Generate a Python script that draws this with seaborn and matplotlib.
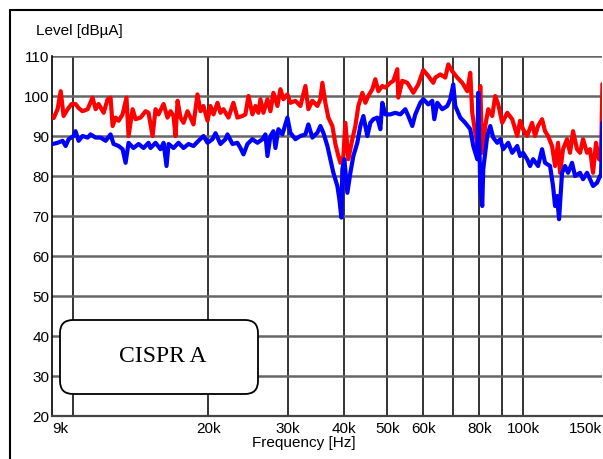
import matplotlib
matplotlib.use("Agg")
import matplotlib.pyplot as plt
import seaborn as sns
import pandas as pd
from matplotlib.patches import FancyBboxPatch
from matplotlib.lines import Line2D
from matplotlib.transforms import IdentityTransform
from matplotlib.ticker import NullLocator

# ---------------- data ----------------
red_freq_khz = [9.03, 9.08, 9.26, 9.41, 9.55, 9.75, 9.95, 10.15, 10.31, 10.52, 10.80, 11.07, 11.25, 11.42,
                11.72, 11.96, 12.14, 12.27, 12.46, 12.65, 12.91, 13.17, 13.31, 13.59, 13.80, 14.15, 14.52,
                14.74, 15.05, 15.28, 15.51, 15.92, 16.24, 16.50, 16.75, 16.92, 17.10, 17.36, 17.63, 17.99,
                18.27, 18.55, 18.93, 19.23, 19.52, 19.93, 20.23, 20.55, 20.97, 21.29, 21.62, 22.18, 22.75,
                23.22, 23.82, 24.19, 24.57, 25.07, 25.46, 25.85, 26.12, 26.52, 27.07, 27.49, 27.91, 28.49,
                28.93, 29.37, 29.98, 30.44, 31.23, 32.04, 32.87, 33.37, 34.06, 34.94, 35.48, 35.85, 36.40,
                36.96, 37.73, 38.31, 38.90, 39.30, 39.91, 40.32, 40.94, 41.78, 42.43, 43.08, 43.98, 44.65,
                45.34, 46.28, 46.99, 47.72, 48.70, 49.45, 50.73, 51.52, 52.58, 52.85, 53.94, 55.33, 56.19,
                57.06, 58.53, 60.05, 61.60, 63.19, 63.84, 65.49, 67.19, 68.23, 69.63, 71.43, 73.28, 75.18,
                76.34, 77.12, 78.31, 79.52, 80.34, 81.16, 82.42, 83.69, 85.42, 86.73, 88.07, 89.89, 92.22,
                94.60, 97.05, 98.48, 100.0, 102.07, 104.70, 106.31, 107.96, 110.19, 111.89, 113.62, 115.96,
                117.76, 119.57, 120.80, 122.66, 125.20, 127.13, 129.10, 131.76, 133.80, 135.87, 138.67,
                140.81, 142.99, 145.19, 147.44, 148.95, 150.0]
red_level = [95, 94.5, 96.7, 101.2, 95, 96.7, 98, 98, 97, 96.2, 96.7, 99.6, 96.7, 98,
             95.8, 99.2, 99.6, 92.5, 94.6, 93.8, 95.4, 99.6, 90, 96.7, 94.2, 94.6, 96.2,
             95.8, 90, 96.7, 95.4, 98, 94.6, 96.2, 95, 90, 98.8, 94.6, 93.3, 96.2,
             94.6, 92.9, 100.4, 96.2, 97.5, 93.8, 97.5, 95.4, 98.3, 95.8, 96.7, 94.6, 98.3,
             94.6, 95, 95.4, 100, 95.4, 97.5, 95.8, 99.2, 95.8, 99.2, 96.2, 100.8, 97.5,
             101.7, 99.2, 100.4, 98.3, 98.8, 97.5, 102.5, 96.7, 98.8, 97.5, 99.2, 103.3, 98.3,
             94.6, 92.5, 88, 85, 83.3, 85, 93.3, 84.2, 89.2, 92.5, 97.5, 100.8, 98.3,
             100, 101.7, 104.2, 101.2, 102.5, 102.1, 103.3, 103.8, 106.7, 99.6, 103.8, 103.3, 102.1,
             100.8, 102.9, 106.5, 105, 103.3, 104.6, 105.4, 104.6, 107.9, 106.2, 104.6, 103.3, 101.2,
             105.8, 95.8, 90.8, 86.7, 102.5, 85.8, 92.5, 96.7, 95, 100, 97.9, 93.3, 95.8,
             94.2, 90, 93.8, 91.7, 90, 93.3, 90, 92.5, 94.2, 91.2, 90, 87.5,
             82.5, 88.3, 80.8, 86.7, 89.2, 85.8, 91.2, 86.7, 85.8, 89.2, 85.8,
             86.7, 80.8, 88.3, 84.2, 84, 103]

blue_freq_khz = [9.03, 9.26, 9.50, 9.65, 9.80, 10.05, 10.15, 10.31, 10.52, 10.80, 10.96, 11.25, 11.54,
                 11.84, 12.14, 12.33, 12.65, 12.91, 13.11, 13.31, 13.65, 14.01, 14.37, 14.74, 14.89, 15.28,
                 15.67, 15.92, 16.16, 16.33, 16.75, 17.18, 17.63, 18.08, 18.55, 19.03, 19.52, 19.93, 20.44,
                 20.76, 21.29, 21.84, 22.07, 22.64, 23.22, 23.58, 23.95, 24.44, 25.07, 25.72, 26.39, 26.79,
                 27.07, 27.49, 27.91, 28.20, 28.63, 29.22, 29.98, 30.44, 31.23, 32.04, 32.87, 33.37, 34.06,
                 34.94, 35.48, 36.03, 36.78, 37.34, 37.92, 38.70, 39.10, 39.50, 39.70, 40.11, 40.73, 41.36,
                 42.00, 42.86, 43.53, 44.20, 45.11, 45.81, 46.51, 47.47, 48.21, 48.70, 49.45, 50.73, 52.04,
                 53.39, 54.77, 55.62, 56.77, 57.64, 59.13, 60.05, 61.60, 62.87, 63.52, 64.50, 66.16, 67.88,
                 68.93, 69.99, 70.71, 72.54, 74.41, 76.34, 77.52, 79.12, 79.52, 80.34, 81.16, 81.58, 83.26,
                 84.55, 85.85, 87.63, 88.98, 90.35, 92.69, 94.60, 97.05, 98.48, 100.0, 102.07, 103.64,
                 105.24, 107.96, 110.19, 111.89, 114.79, 116.55, 117.76, 118.97, 120.18, 122.04, 123.92,
                 125.84, 128.44, 130.42, 133.80, 135.87, 138.67, 140.81, 142.99, 145.93, 148.19, 148.95, 150.0]
blue_level = [88, 88.3, 88.8, 87.5, 89.2, 90, 91.2, 88.8, 90, 89.6, 90.4, 89.6, 89.6,
              88.8, 90.4, 88, 87.5, 86.7, 83.3, 88.3, 87, 88, 87, 88.3, 87, 88.3,
              86.7, 88.3, 82.5, 88, 87, 88.3, 87, 88, 87.5, 88.8, 90, 88.3, 89.2,
              90.7, 88, 89.2, 90.4, 88, 88.3, 87, 85.4, 88, 89.2, 88.3, 89.2, 90.4,
              85, 90, 91.2, 87, 91.7, 90.4, 94.6, 90.8, 89.2, 90, 90.4, 92.9, 89.6,
              90.8, 92.5, 90.8, 87.5, 84.2, 80.8, 77.5, 74.2, 69.6, 81.7, 84.2, 75.8, 80.8,
              85, 88.3, 92.5, 95, 90, 93.3, 94.2, 94.6, 91.7, 98.3, 95.4, 95.4, 95.8,
              95.4, 96.7, 95, 92.5, 95.4, 98.3, 99.2, 97.9, 98.8, 94.2, 98.3, 96.7, 97.5,
              99.2, 102.9, 97.5, 94.6, 93.3, 91.7, 87.5, 84.2, 100.8, 77.5, 72.5, 81.7, 90,
              92.5, 89.6, 88.3, 89.2, 86.7, 88.3, 85.8, 87.5, 85, 85.8, 84.2, 82.5,
              84.2, 82.5, 86.7, 83.3, 82.5, 77.5, 72.5, 75, 69.2, 80.8, 82.5,
              80.8, 83.3, 80, 80.8, 79.2, 80.8, 79.2, 77.5, 78.3, 80, 80, 93.3]

x_ticks_khz = [9, 20, 30, 40, 50, 60, 80, 100, 150]
x_tick_labels = ["9k", "20k", "30k", "40k", "50k", "60k", "80k", "100k", "150k"]
x_grid_khz = [10, 20, 30, 40, 50, 60, 70, 80, 90, 100]
y_ticks = [20, 30, 40, 50, 60, 70, 80, 90, 100, 110]

red_df = pd.DataFrame({"freq": red_freq_khz, "level": red_level})
blue_df = pd.DataFrame({"freq": blue_freq_khz, "level": blue_level})

# ---------------- style ----------------
sns.set_theme(style="white")
plt.rcParams["font.family"] = ["Liberation Sans", "DejaVu Sans"]
plt.rcParams["text.color"] = "black"

W, H = 603, 459
fig = plt.figure(figsize=(W / 100, H / 100), dpi=100)
fig.patch.set_facecolor("white")
ax = fig.add_axes([52 / W, 43 / H, 550.4 / W, 360 / H])
ax.set_facecolor("white")

sns.lineplot(data=red_df, x="freq", y="level", color="#ff0000", linewidth=3.0,
             estimator=None, sort=False, ax=ax, zorder=3)
sns.lineplot(data=blue_df, x="freq", y="level", color="#0000ff", linewidth=3.0,
             estimator=None, sort=False, ax=ax, zorder=4)

ax.set_xscale("log")
ax.set_xlim(9, 150)
ax.set_ylim(20, 110)

for f in x_grid_khz:
    ax.axvline(f, color="#111111", linewidth=1.2, zorder=1)
for yv in y_ticks[1:]:
    ax.axhline(yv, color="#666666", linewidth=1.8, zorder=1)

ax.set_xticks(x_ticks_khz)
ax.set_xticklabels(x_tick_labels)
ax.xaxis.set_minor_locator(NullLocator())
ax.set_yticks(y_ticks)
ax.set_yticklabels([str(v) for v in y_ticks])
ax.tick_params(axis="both", length=0, labelsize=11, colors="black")
ax.tick_params(axis="x", pad=4)
ax.tick_params(axis="y", pad=2)
xt_labels = ax.get_xticklabels()
xt_labels[0].set_horizontalalignment("left")
xt_labels[-1].set_horizontalalignment("right")
ax.set_xlabel("")
ax.set_ylabel("")

for side in ["top", "right"]:
    ax.spines[side].set_visible(False)
ax.spines["left"].set_color("black")
ax.spines["left"].set_linewidth(1.2)
ax.spines["bottom"].set_color("#444444")
ax.spines["bottom"].set_linewidth(1.6)

# ---------------- annotations ----------------
fig.text(36 / W, 1 - 31 / H, "Level [dBµA]", ha="left", va="center", fontsize=11, color="black")
fig.text(304 / W, 1 - 443 / H, "Frequency [Hz]", ha="center", va="center", fontsize=11, color="black")

# outer frame
fig.add_artist(Line2D([10 / W, 1], [1 - 10 / H, 1 - 10 / H], transform=fig.transFigure,
                      color="black", linewidth=1.5))
fig.add_artist(Line2D([10 / W, 10 / W], [0, 1 - 10 / H], transform=fig.transFigure,
                      color="black", linewidth=1.5))

# CISPR A box
box = FancyBboxPatch((60, H - 394), 198, 74, boxstyle="round,pad=0,rounding_size=13",
                     transform=IdentityTransform(), facecolor="white", edgecolor="black",
                     linewidth=1.3, zorder=5)
fig.add_artist(box)
fig.text(163 / W, 1 - 357 / H, "CISPR A", family=["Liberation Serif", "DejaVu Serif"],
         fontsize=17, ha="center", va="center", zorder=6, color="black")

fig.savefig("out.png", dpi=100, facecolor="white")
